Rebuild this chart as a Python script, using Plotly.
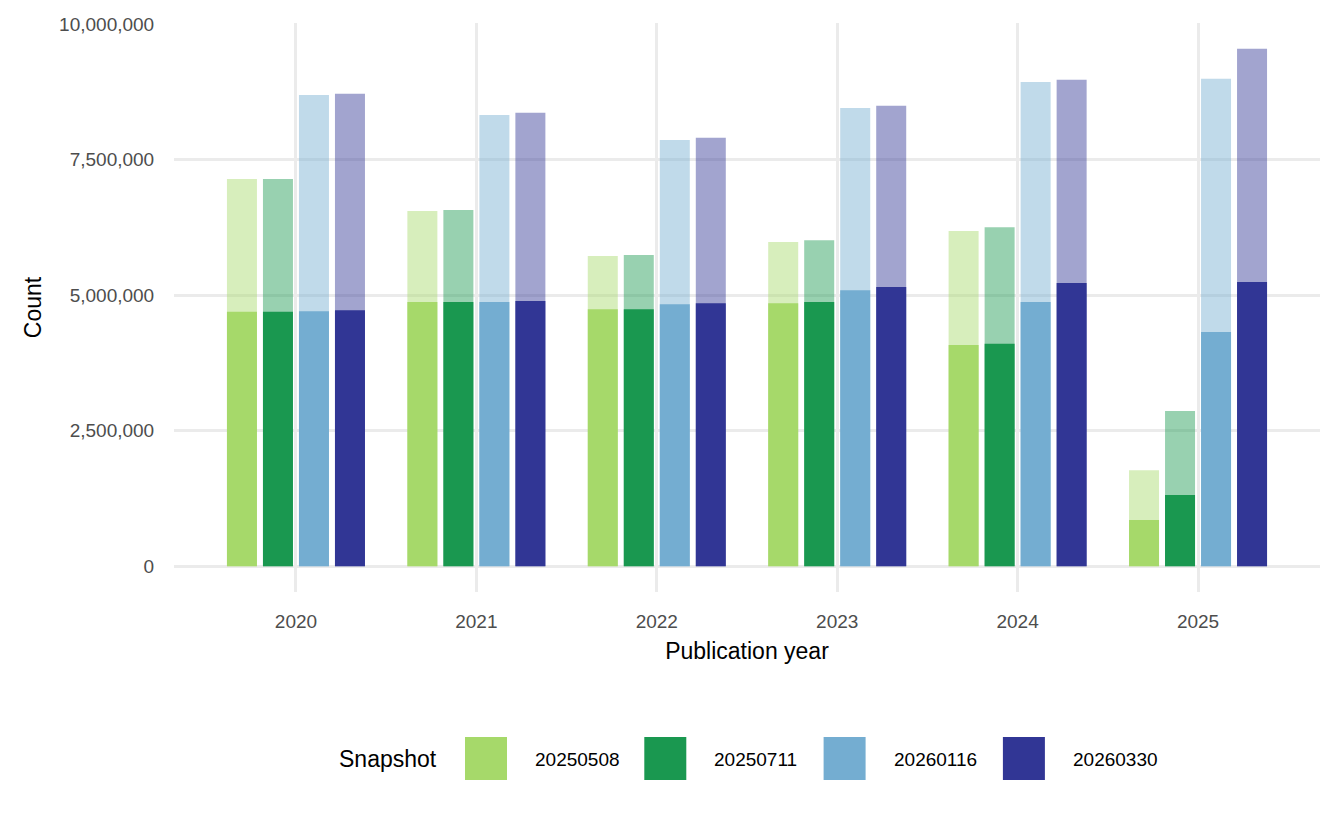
import plotly.graph_objects as go

# publication years on the x axis
years = ["2020", "2021", "2022", "2023", "2024", "2025"]
snapshots = ["20250508", "20250711", "20260116", "20260330"]
colours = ["#a6d96a", "#1a9850", "#74add1", "#313695"]

# full height (light bar) per snapshot
total_20250508 = [7140000, 6550000, 5720000, 5980000, 6180000, 1770000]
total_20250711 = [7140000, 6570000, 5740000, 6010000, 6250000, 2860000]
total_20260116 = [8690000, 8320000, 7860000, 8450000, 8930000, 8990000]
total_20260330 = [8710000, 8360000, 7900000, 8490000, 8970000, 9540000]

# solid part of each bar
part_20250508 = [4690000, 4870000, 4740000, 4850000, 4080000, 850000]
part_20250711 = [4690000, 4870000, 4740000, 4870000, 4100000, 1310000]
part_20260116 = [4700000, 4870000, 4830000, 5090000, 4870000, 4320000]
part_20260330 = [4720000, 4890000, 4850000, 5150000, 5220000, 5240000]

y_ticks = [0, 2500000, 5000000, 7500000, 10000000]

totals = [total_20250508, total_20250711, total_20260116, total_20260330]
parts = [part_20250508, part_20250711, part_20260116, part_20260330]

FONT = "Liberation Sans"
# page body has an 8px margin, so the figure is drawn 8px smaller and offset
OFF = 8
W, H = 1344 - OFF, 830 - OFF
L, R, T, B = 174 - OFF, 24, 23 - OFF, 238

fig = go.Figure()
for name, colour, tot, part in zip(snapshots, colours, totals, parts):
    fig.add_trace(go.Bar(x=years, y=tot, offsetgroup=name, name=name,
                         marker=dict(color=colour, opacity=0.45, line_width=0),
                         showlegend=False, hoverinfo="skip"))
    fig.add_trace(go.Bar(x=years, y=part, offsetgroup=name, name=name,
                         marker=dict(color=colour, line_width=0),
                         showlegend=False))

# legend drawn by hand so the keys get the big ggplot squares
def px(x):
    return (x - OFF - L) / (W - L - R)

def py(y):
    return (H - B - (y - OFF)) / (H - T - B)

shapes = []
annots = [dict(text="Snapshot", x=px(337), y=py(759), xref="paper", yref="paper",
               xanchor="left", yanchor="middle", showarrow=False,
               font=dict(family=FONT, size=23, color="black"))]
for i, (name, colour) in enumerate(zip(snapshots, colours)):
    x0 = 465 + i * 179.3
    shapes.append(dict(type="rect", xref="paper", yref="paper",
                       x0=px(x0), x1=px(x0 + 42), y0=py(780), y1=py(737),
                       fillcolor=colour, line_width=0, layer="above"))
    annots.append(dict(text=name, x=px(x0 + 68), y=py(759), xref="paper", yref="paper",
                       xanchor="left", yanchor="middle", showarrow=False,
                       font=dict(family=FONT, size=19, color="black")))

fig.update_layout(
    width=W, height=H,
    margin=dict(l=L, r=R, t=T, b=B),
    plot_bgcolor="white", paper_bgcolor="white",
    barmode="group", bargap=0.2017, bargroupgap=1 / 6,
    font=dict(family=FONT, size=19, color="#4d4d4d"),
    shapes=shapes, annotations=annots,
    xaxis=dict(type="category", range=[-0.676, 5.676], automargin=False,
               showgrid=True, gridcolor="#ebebeb", gridwidth=2.5,
               ticks="outside", ticklen=12, tickcolor="rgba(0,0,0,0)",
               tickfont=dict(family=FONT, size=19, color="#4d4d4d"),
               title=dict(text="Publication year", standoff=12,
                          font=dict(family=FONT, size=23, color="black")),
               showline=False, zeroline=False),
    yaxis=dict(range=[-477000, 10017000], tickvals=y_ticks, automargin=False,
               tickformat=",d",
               showgrid=True, gridcolor="#ebebeb", gridwidth=2.5,
               ticks="outside", ticklen=15, tickcolor="rgba(0,0,0,0)",
               tickfont=dict(family=FONT, size=19, color="#4d4d4d"),
               title=dict(text="Count", standoff=11,
                          font=dict(family=FONT, size=23, color="black")),
               showline=False, zeroline=False),
)

fig.write_html("out.html")
